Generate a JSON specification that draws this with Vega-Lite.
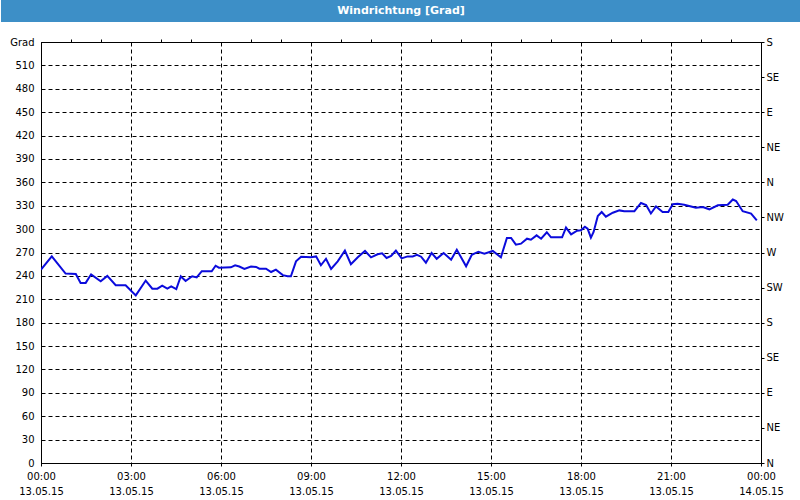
{
  "$schema": "https://vega.github.io/schema/vega-lite/v6.json",
  "padding": 0,
  "background": "white",
  "config": {
    "font": "DejaVu Sans",
    "view": {"stroke": "black", "strokeWidth": 1},
    "axis": {"labelFont": "DejaVu Sans", "labelFontSize": 10, "labelColor": "black", "domainColor": "black", "tickColor": "black", "titleFontSize": 10}
  },
  "columns": 1,
  "spacing": 14,
  "concat": [
    {
      "width": 720,
      "height": 22,
      "view": {"stroke": null},
      "data": {"values": [{"title": "Windrichtung [Grad]"}]},
      "layer": [
        {
          "mark": {"type": "rect", "color": "#3d8fc7"},
          "encoding": {
            "x": {"datum": -1.3334, "type": "quantitative", "scale": {"domain": [0, 24], "nice": false, "zero": false}, "axis": null},
            "x2": {"datum": 25.3334}
          }
        },
        {
          "mark": {"type": "text", "color": "white", "fontWeight": "bold", "fontSize": 11, "font": "DejaVu Sans"},
          "encoding": {
            "x": {"datum": 12, "type": "quantitative"},
            "text": {"field": "title", "type": "nominal"}
          }
        }
      ]
    },
    {
      "width": 720,
      "height": 421,
      "data": {"values": [
        {"h": 0, "v": 248}, {"h": 0.36, "v": 265}, {"h": 0.82, "v": 243}, {"h": 1.16, "v": 242.5}, {"h": 1.32, "v": 231}, {"h": 1.49, "v": 231},
        {"h": 1.67, "v": 242}, {"h": 1.99, "v": 233}, {"h": 2.21, "v": 240}, {"h": 2.49, "v": 228}, {"h": 2.82, "v": 228}, {"h": 3.16, "v": 215},
        {"h": 3.49, "v": 234}, {"h": 3.71, "v": 223.6}, {"h": 3.88, "v": 223.6}, {"h": 4.04, "v": 227.4}, {"h": 4.21, "v": 223.6}, {"h": 4.34, "v": 226.6},
        {"h": 4.51, "v": 223}, {"h": 4.66, "v": 239.5}, {"h": 4.82, "v": 233.5}, {"h": 5.04, "v": 239.5}, {"h": 5.19, "v": 238}, {"h": 5.36, "v": 246},
        {"h": 5.69, "v": 246}, {"h": 5.82, "v": 253}, {"h": 5.93, "v": 250.5}, {"h": 6.33, "v": 251}, {"h": 6.47, "v": 253.6}, {"h": 6.61, "v": 252},
        {"h": 6.78, "v": 249}, {"h": 7.0, "v": 252}, {"h": 7.17, "v": 251.5}, {"h": 7.28, "v": 249.2}, {"h": 7.5, "v": 249.2}, {"h": 7.67, "v": 245},
        {"h": 7.83, "v": 248}, {"h": 8.06, "v": 241}, {"h": 8.22, "v": 239.5}, {"h": 8.33, "v": 239.5}, {"h": 8.5, "v": 258.7}, {"h": 8.67, "v": 264.6},
        {"h": 9.0, "v": 263.8}, {"h": 9.17, "v": 265}, {"h": 9.33, "v": 253.6}, {"h": 9.5, "v": 262}, {"h": 9.67, "v": 249}, {"h": 9.89, "v": 258.7},
        {"h": 10.13, "v": 272.4}, {"h": 10.33, "v": 255}, {"h": 10.56, "v": 264}, {"h": 10.8, "v": 272}, {"h": 11.0, "v": 263.8}, {"h": 11.22, "v": 267.7},
        {"h": 11.37, "v": 269}, {"h": 11.52, "v": 263}, {"h": 11.67, "v": 265.5}, {"h": 11.83, "v": 272.4}, {"h": 12.02, "v": 262.5}, {"h": 12.22, "v": 265},
        {"h": 12.39, "v": 265}, {"h": 12.53, "v": 267}, {"h": 12.67, "v": 264.6}, {"h": 12.83, "v": 257}, {"h": 13.02, "v": 269.4}, {"h": 13.19, "v": 262},
        {"h": 13.42, "v": 269.4}, {"h": 13.67, "v": 260.8}, {"h": 13.86, "v": 273.6}, {"h": 14.17, "v": 252.3}, {"h": 14.36, "v": 267}, {"h": 14.58, "v": 271},
        {"h": 14.78, "v": 268.5}, {"h": 15.06, "v": 272}, {"h": 15.33, "v": 263.8}, {"h": 15.53, "v": 288.6}, {"h": 15.67, "v": 288.6}, {"h": 15.83, "v": 280},
        {"h": 16.0, "v": 281.3}, {"h": 16.2, "v": 287.7}, {"h": 16.33, "v": 286.4}, {"h": 16.52, "v": 292}, {"h": 16.67, "v": 287.7}, {"h": 16.86, "v": 296},
        {"h": 17.0, "v": 289.5}, {"h": 17.37, "v": 289.5}, {"h": 17.5, "v": 302}, {"h": 17.67, "v": 293.3}, {"h": 17.87, "v": 298}, {"h": 18.0, "v": 298.5},
        {"h": 18.13, "v": 303}, {"h": 18.22, "v": 300.5}, {"h": 18.33, "v": 289}, {"h": 18.42, "v": 296.3}, {"h": 18.56, "v": 316.8}, {"h": 18.69, "v": 322},
        {"h": 18.83, "v": 316}, {"h": 19.06, "v": 321}, {"h": 19.28, "v": 324}, {"h": 19.44, "v": 323}, {"h": 19.78, "v": 323}, {"h": 20.0, "v": 333.5},
        {"h": 20.17, "v": 331}, {"h": 20.33, "v": 320}, {"h": 20.5, "v": 329}, {"h": 20.72, "v": 322}, {"h": 20.91, "v": 322}, {"h": 21.06, "v": 332},
        {"h": 21.22, "v": 332.6}, {"h": 21.44, "v": 331.3}, {"h": 21.67, "v": 329}, {"h": 21.83, "v": 327.5}, {"h": 22.06, "v": 328.4}, {"h": 22.28, "v": 325.4},
        {"h": 22.56, "v": 330.6}, {"h": 22.89, "v": 331.3}, {"h": 23.06, "v": 338}, {"h": 23.17, "v": 336}, {"h": 23.39, "v": 323}, {"h": 23.67, "v": 320},
        {"h": 23.86, "v": 311.3}
      ]},
      "layer": [
        {
          "mark": {"type": "line", "color": "#0b0bdc", "strokeWidth": 2, "clip": true},
          "encoding": {
            "x": {"field": "h", "type": "quantitative", "scale": {"domain": [0, 24], "nice": false, "zero": false},
              "axis": {"title": null, "values": [0, 3, 6, 9, 12, 15, 18, 21, 24], "grid": true, "gridColor": "black", "gridDash": [4, 3], "gridOpacity": 1,
                "tickSize": 3, "labelPadding": 5, "labelLineHeight": 15, "labelOverlap": false, "labelBound": false, "labelFlush": false,
                "labelExpr": "[(datum.value % 24 < 10 ? '0' : '') + (datum.value % 24) + ':00', datum.value == 24 ? '14.05.15' : '13.05.15']"}},
            "y": {"field": "v", "type": "quantitative", "scale": {"domain": [0, 540], "nice": false, "zero": true},
              "axis": {"title": null, "values": [0, 30, 60, 90, 120, 150, 180, 210, 240, 270, 300, 330, 360, 390, 420, 450, 480, 510, 540],
                "grid": true, "gridColor": "black", "gridDash": [4, 3], "gridOpacity": 1, "ticks": false, "labelPadding": 7,
                "minExtent": 40, "maxExtent": 40, "labelOverlap": false, "labelBound": false,
                "labelExpr": "datum.value == 540 ? 'Grad' : datum.label"}}
          }
        },
        {
          "mark": {"type": "line", "opacity": 0},
          "encoding": {
            "x": {"field": "h", "type": "quantitative", "scale": {"domain": [0, 24], "nice": false, "zero": false},
              "axis": {"title": null, "values": [1, 2, 4, 5, 7, 8, 10, 11, 13, 14, 16, 17, 19, 20, 22, 23], "grid": false, "labels": false, "tickSize": 3, "domain": false}},
            "y": {"field": "v", "type": "quantitative", "scale": {"domain": [0, 540], "nice": false, "zero": true},
              "axis": {"title": null, "orient": "right", "values": [0, 45, 90, 135, 180, 225, 270, 315, 360, 405, 450, 495, 540],
                "grid": false, "tickSize": 3, "labelPadding": 2, "labelOverlap": false, "labelBound": false,
                "labelExpr": "['N','NE','E','SE','S','SW','W','NW'][round(datum.value / 45) % 8]"}}
          }
        }
      ],
      "resolve": {"scale": {"y": "independent"}, "axis": {"x": "independent"}}
    }
  ]
}
